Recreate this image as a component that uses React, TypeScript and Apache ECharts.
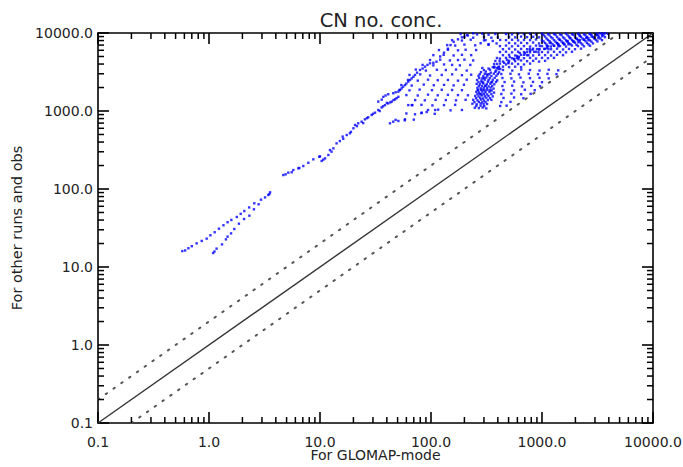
import React, { useEffect, useRef } from "react";
import * as echarts from "echarts";

const TITLE = "CN no. conc.";
const X_NAME = "For GLOMAP-mode";
const Y_NAME = "For other runs and obs";
const AXIS_MIN = 0.1;
const AXIS_MAX = 10000;
const MINOR_MULTS = [2, 3, 4, 5, 6, 7, 8, 9];
const DECADES = [0.1, 1, 10, 100, 1000];

// Reference lines (1:1, 2:1 and 1:2)
const lineOneToOne = [[0.1, 0.1], [10000, 10000]];
const lineTwoToOne = [[0.1, 0.2], [5000, 10000]];
const lineOneToTwo = [[0.2, 0.1], [10000, 5000]];

// Scatter points
const tailUpper = [
  [0.575, 16.0], [0.61, 16.3], [0.652, 17.4], [0.7, 18.5], [0.774, 20.1], [0.86, 21.6], [0.953, 23.1],
  [1.03, 25.5], [1.125, 27.9], [1.23, 31], [1.35, 34.3], [1.47, 37.5], [1.59, 40.1], [1.78, 43.8],
  [1.93, 48], [2.08, 52.2], [2.3, 58], [2.56, 65.6], [2.94, 73], [3.2, 78], [3.42, 83.8], [3.55, 90.6], [3.5, 86],
];
const tailLower = [
  [1.09, 15.1], [1.12, 15.8], [1.17, 17.2], [1.31, 19.5], [1.42, 22.6], [1.47, 24.5], [1.58, 27.0],
  [1.69, 30.7], [1.86, 35.9], [2.07, 41.2], [2.31, 45.5], [2.54, 54.9], [2.8, 63.7],
];
const midSegment = [
  [4.67, 151], [4.9, 154], [5.18, 162], [5.56, 164], [5.75, 175], [6.38, 184], [6.51, 186], [7.07, 197],
  [7.85, 217], [8.71, 240], [9.86, 259], [10.0, 262], [10.35, 229], [10.7, 238], [11.1, 247], [11.9, 273],
  [12.3, 316], [12.7, 301], [13.2, 332],
];
const bandLower = [
  [14.1, 385], [15.1, 412], [16.2, 440], [17.4, 492], [18.6, 518], [20.0, 600], [20.7, 662], [22.1, 695],
  [23.7, 729], [25.4, 782], [27.2, 830], [29.2, 889], [31.3, 951], [33.5, 1030], [35.9, 1110], [38.5, 1190],
  [41.2, 1250], [44.3, 1320], [47.4, 1410], [50.8, 1520], [16.0, 470], [19.0, 540], [21.5, 640], [24.5, 700],
  [26.5, 810], [30.0, 920], [34.5, 1000], [37.0, 1150], [40.0, 1270], [43.0, 1290], [46.0, 1380], [49, 1460],
];
const bandUpper = [
  [33.5, 1320], [37.2, 1520], [41.2, 1640], [45.7, 1690], [50.8, 1770], [54.4, 1950], [58.3, 2150],
  [62.4, 2380], [67.0, 2620], [71.8, 2900], [79.6, 3360], [88.3, 3700], [98, 4090], [112, 4290],
  [36, 1400], [39, 1580], [48, 1740], [52.6, 1860], [56, 2050], [60, 2250], [64.7, 2500], [69.5, 2750],
  [75, 3100], [84, 3500], [93, 3900], [105, 4150], [121, 5000], [131, 5600], [142, 6300], [150, 7000],
  [160, 7700], [175, 8300], [190, 8800], [211, 9400], [240, 9900],
];
const fanPoints = [
  [185, 9700], [215, 9300], [260, 9600], [240, 8700], [200, 8900],
  [155, 8100], [190, 8000], [228, 8200], [300, 8050], [420, 8150],
  [140, 7000], [165, 6900], [200, 7100], [250, 6950], [330, 7050],
  [118, 6050], [142, 6100], [175, 6000], [205, 6100], [255, 6050],
  [105, 5200], [130, 5250], [160, 5150], [190, 5250], [230, 5200],
  [98, 4500], [121, 4550], [148, 4450], [175, 4500], [200, 4550], [240, 4450],
  [84, 3900], [105, 3850], [131, 3950], [155, 3900], [182, 3850], [226, 3900],
  [73, 3400], [90, 3300], [113, 3380], [136, 3350], [168, 3400], [210, 3300],
  [64, 2900], [80, 2950], [98, 2850], [125, 2900], [155, 2950], [190, 2880], [230, 2920],
  [62, 2500], [76, 2450], [94, 2520], [115, 2480], [142, 2500], [175, 2450], [210, 2520],
  [54, 2150], [67, 2120], [86, 2180], [106, 2140], [131, 2160], [160, 2130], [198, 2170],
  [52, 1860], [64, 1840], [79, 1880], [102, 1850], [125, 1870], [155, 1860], [190, 1850],
  [60, 1600], [76, 1580], [94, 1620], [115, 1590], [142, 1610], [175, 1600], [215, 1590],
  [72, 1380], [88, 1370], [110, 1390], [136, 1380], [168, 1370], [205, 1390],
  [68, 1190], [82, 1200], [103, 1180], [131, 1190], [165, 1200],
  [94, 1030], [116, 1040], [150, 1020], [190, 1030],
  [60, 930], [82, 940], [108, 920], [48, 770], [58, 760], [70, 775],
  [42.7, 695], [45.7, 729], [50.8, 745], [58.3, 782], [62.4, 1190], [67, 1190], [71.8, 907],
  [82.4, 951], [91.4, 971], [109, 1030],
];
const blobPoints = [
  [290, 3560], [330, 3500], [372, 3600], [405, 3450],
  [282, 3150], [312, 3200], [345, 3100], [380, 3180], [410, 3130],
  [268, 2820], [296, 2790], [322, 2850], [350, 2800], [388, 2830],
  [260, 2500], [285, 2460], [305, 2520], [330, 2480], [360, 2510], [395, 2470],
  [258, 2230], [276, 2200], [295, 2250], [318, 2210], [342, 2240], [372, 2200],
  [262, 1980], [280, 1950], [300, 1990], [320, 1960], [345, 2000], [366, 1940],
  [256, 1760], [272, 1730], [290, 1770], [310, 1740], [336, 1760], [370, 1720],
  [250, 1560], [268, 1540], [286, 1580], [305, 1550], [330, 1560], [360, 1540],
  [240, 1390], [262, 1370], [283, 1400], [300, 1360], [325, 1380], [350, 1390],
  [236, 1240], [258, 1220], [280, 1250], [298, 1220], [320, 1230],
  [248, 1100], [270, 1090], [292, 1110], [315, 1080],
  [275, 1650], [295, 1880], [310, 2100], [285, 2350], [300, 2650], [320, 2950], [265, 1850], [340, 1850], [355, 2350],
  [300, 3350], [340, 3380], [385, 3300],
  [275, 2970], [305, 3000], [335, 2960], [368, 3010], [400, 2980],
  [272, 2650], [290, 2620], [315, 2680], [338, 2640], [375, 2660],
  [268, 2350], [295, 2330], [325, 2370], [350, 2340], [385, 2360],
  [270, 2090], [288, 2080], [308, 2110], [330, 2070], [356, 2100],
  [264, 1850], [282, 1870], [305, 1840], [322, 1860], [352, 1830],
  [262, 1650], [285, 1640], [300, 1660], [320, 1630], [350, 1650],
  [255, 1460], [277, 1470], [295, 1450], [315, 1480], [340, 1460],
  [246, 1300], [270, 1310], [290, 1290], [310, 1300],
  [256, 1160], [280, 1170], [302, 1150],
];
const topPoints = [
  [290, 9800], [330, 9500], [380, 9700], [300, 8900], [350, 8700], [400, 8800], [310, 8100], [360, 7900],
  [280, 7400], [330, 7200], [390, 7350],
  [474, 9700], [537, 9600], [609, 9800], [688, 9650], [781, 9750], [883, 9600], [1000, 9800], [1132, 9650],
  [1283, 9700], [1452, 9600], [1646, 9800], [1862, 9650], [2110, 9750], [2388, 9600], [2706, 9700],
  [3062, 9800], [3470, 9650], [3935, 9750],
  [505, 8900], [573, 8800], [648, 9000], [734, 8850], [832, 8950], [941, 8800], [1066, 9000], [1207, 8850],
  [1366, 8900], [1547, 8800], [1752, 9000], [1983, 8850], [2246, 8950], [2542, 8800], [2878, 8900],
  [3258, 9000], [3690, 8850],
  [474, 8100], [537, 8200], [609, 8050], [688, 8150], [781, 8100], [883, 8250], [1000, 8050], [1132, 8150],
  [1283, 8100], [1452, 8200], [1646, 8050], [1862, 8150], [2110, 8100], [2388, 8200], [2706, 8050],
  [3062, 8150], [3470, 8100],
  [505, 7450], [573, 7350], [648, 7500], [734, 7400], [832, 7550], [941, 7350], [1066, 7450], [1207, 7500],
  [1366, 7400], [1547, 7450], [1752, 7350], [1983, 7500], [2246, 7400], [2542, 7450], [2878, 7350],
  [418, 6800], [474, 6900], [537, 6750], [609, 6850], [688, 6800], [781, 6700], [883, 6900], [1000, 6800],
  [1132, 6750], [1283, 6850], [1452, 6800], [1646, 6700], [1862, 6900], [2110, 6800], [2388, 6750], [2706, 6850],
  [445, 6200], [505, 6300], [573, 6150], [648, 6250], [734, 6200], [832, 6300], [941, 6150], [1066, 6250],
  [1207, 6200], [1366, 6300], [1547, 6150], [1752, 6250], [1983, 6200], [2246, 6300],
  [418, 5700], [474, 5750], [537, 5650], [609, 5750], [688, 5700], [781, 5650], [883, 5750], [1000, 5700],
  [1132, 5650], [1283, 5750], [1452, 5700], [1646, 5650], [1862, 5750],
  [445, 5200], [505, 5250], [573, 5150], [648, 5250], [734, 5200], [832, 5150], [941, 5250], [1066, 5200],
  [1207, 5150], [1366, 5250], [1547, 5200],
  [393, 4780], [418, 4700], [474, 4800], [537, 4750], [609, 4850], [688, 4750], [781, 4800], [883, 4700],
  [1000, 4800], [1132, 4750], [1283, 4800],
  [380, 4380], [445, 4300], [505, 4400], [573, 4350], [648, 4450], [734, 4350], [832, 4400], [941, 4300], [1066, 4400],
  [370, 4000], [418, 4050], [474, 3950], [537, 4050], [609, 4000], [688, 3950], [781, 4050],
  [360, 3650], [445, 3700], [505, 3650], [573, 3700], [648, 3650],
  [1032, 9400], [1170, 9350], [1324, 9450], [1500, 9400], [1700, 9350], [1922, 9450], [2178, 9400],
  [2465, 9350], [2790, 9450], [3160, 9400], [3580, 9350],
  [1099, 8500], [1245, 8550], [1410, 8450], [1596, 8500], [1807, 8550], [2047, 8450], [2317, 8500],
  [2623, 8550], [2970, 8450], [3360, 8500],
  [1032, 7800], [1170, 7850], [1324, 7750], [1500, 7800], [1700, 7850], [1922, 7750], [2178, 7800],
  [2465, 7850], [2790, 7750], [3160, 7800],
  [1099, 7100], [1245, 7150], [1410, 7050], [1596, 7100], [1807, 7150], [2047, 7050], [2317, 7100], [2623, 7150],
];
const ropePoints = [
  [393, 4010], [415, 4380], [372, 3690], [405, 3650],
  [484, 4510], [512, 4920], [456, 4150], [498, 4100],
  [596, 5070], [630, 5540], [562, 4660], [614, 4610],
  [733, 5710], [776, 6240], [690, 5250], [755, 5190],
  [902, 6230], [955, 6800], [850, 5730], [930, 5660],
  [1110, 6810], [1175, 7440], [1045, 6260], [1145, 6190],
  [1365, 7450], [1445, 8140], [1285, 6850], [1405, 6770],
  [1680, 7900], [1780, 8630], [1580, 7260], [1730, 7180],
  [2067, 8380], [2190, 9160], [1945, 7710], [2130, 7620],
  [2543, 8900], [2690, 9720], [2390, 8180], [2620, 8090],
  [3128, 9430], [3310, 9900], [2940, 8670], [3220, 8570],
  [3697, 9900], [3480, 9100],
  [393, 3560], [410, 3700], [420, 3450], [500, 4200], [560, 4600], [596, 4780], [620, 4950], [700, 5500],
  [779, 5930], [820, 6100], [950, 6200], [1110, 6420], [1200, 6700], [1400, 7200], [1546, 7450], [1700, 7700],
  [1900, 7900], [2198, 8130], [2500, 8600], [2800, 9000], [3127, 9430], [3500, 9900],
];
const lowerRightPoints = [
  [445, 3360], [540, 3300], [650, 3400], [780, 3350], [950, 3300], [1150, 3380], [1400, 3320],
  [430, 2980], [520, 3000], [620, 2950], [760, 3010], [920, 2960], [1120, 2990], [1350, 2970],
  [440, 2650], [530, 2620], [640, 2680], [780, 2640], [950, 2660], [1150, 2620],
  [460, 2350], [560, 2380], [680, 2330], [830, 2360], [1000, 2340],
  [440, 2090], [540, 2110], [660, 2070], [800, 2100], [960, 2080],
  [450, 1860], [560, 1840], [700, 1870], [860, 1850],
  [430, 1650], [530, 1670], [650, 1640], [790, 1660],
  [450, 1470], [560, 1490], [680, 1460],
  [430, 1300], [520, 1310], [420, 1160], [480, 1170],
];

const scatterData = [
  ...tailUpper, ...tailLower, ...midSegment, ...bandLower, ...bandUpper, ...fanPoints,
  ...blobPoints, ...topPoints, ...ropePoints, ...lowerRightPoints,
];

// Minor tick positions (2..9 in every decade)
const minorValues: number[] = [];
DECADES.forEach((d) => MINOR_MULTS.forEach((m) => minorValues.push(+(d * m).toPrecision(3))));

const FONT = "DejaVu Sans";
const TXT = "#222";
const MINOR_LEN = 6;

export default function App() {
  const ref = useRef<HTMLDivElement>(null);
  useEffect(() => {
    if (!ref.current) return;
    const chart = echarts.init(ref.current, null, { renderer: "svg" });
    const fmt = (v: number) => Number(v).toFixed(1);
    const baseAxis = {
      type: "log" as const,
      logBase: 10,
      min: AXIS_MIN,
      max: AXIS_MAX,
      splitNumber: 5,
      splitLine: { show: false },
      axisLine: { show: true, lineStyle: { color: "#000", width: 1.6 } },
      axisTick: { show: true, inside: true, length: 11, lineStyle: { color: "#000", width: 1.6 } },
    };
    chart.setOption({
      animation: false,
      backgroundColor: "#fff",
      title: {
        text: TITLE,
        left: 376,
        top: 5,
        textAlign: "center",
        textStyle: { fontFamily: FONT, fontSize: 19.5, fontWeight: "normal", color: TXT },
      },
      grid: { left: 98, right: 30, top: 33, bottom: 44, containLabel: false, outerBoundsMode: "none" },
      xAxis: [
        {
          ...baseAxis,
          position: "bottom",
          name: X_NAME,
          nameLocation: "middle",
          nameGap: 25,
          nameMoveOverlap: false,
          nameTextStyle: { fontFamily: FONT, fontSize: 14, color: TXT },
          axisLabel: { formatter: fmt, fontFamily: FONT, fontSize: 14, color: TXT, margin: 12 },
        },
        { ...baseAxis, position: "top", axisLabel: { show: false } },
      ],
      yAxis: [
        {
          ...baseAxis,
          position: "left",
          name: Y_NAME,
          nameLocation: "middle",
          nameGap: 72,
          nameRotate: 90,
          nameTextStyle: { fontFamily: FONT, fontSize: 14.5, color: TXT },
          axisLabel: { formatter: fmt, fontFamily: FONT, fontSize: 14, color: TXT, margin: 5 },
        },
        { ...baseAxis, position: "right", axisLabel: { show: false } },
      ],
      series: [
        {
          type: "scatter",
          data: scatterData,
          symbol: "rect",
          symbolSize: 2.4,
          itemStyle: { color: "#0000ff" },
        },
        {
          type: "line",
          data: lineOneToOne,
          showSymbol: false,
          lineStyle: { color: "#333", width: 1.4 },
        },
        {
          type: "line",
          data: lineTwoToOne,
          showSymbol: false,
          lineStyle: { color: "#555", width: 2, type: [1.5, 8], cap: "round" },
        },
        {
          type: "line",
          data: lineOneToTwo,
          showSymbol: false,
          lineStyle: { color: "#555", width: 2, type: [1.5, 8], cap: "round" },
        },
      ],
    });

    // Minor ticks on all four sides, placed through the chart's own log scales
    const toPx = (p: number[]) => chart.convertToPixel({ gridIndex: 0 }, p) as number[];
    const ticks: any[] = [];
    const st = { stroke: "#000", lineWidth: 1.5 };
    minorValues.forEach((v) => {
      const b = toPx([v, AXIS_MIN]);
      const t = toPx([v, AXIS_MAX]);
      const l = toPx([AXIS_MIN, v]);
      const r = toPx([AXIS_MAX, v]);
      if (b && t && l && r) {
        ticks.push({ type: "line", shape: { x1: b[0], y1: b[1], x2: b[0], y2: b[1] - MINOR_LEN }, style: st, z: 10 });
        ticks.push({ type: "line", shape: { x1: t[0], y1: t[1], x2: t[0], y2: t[1] + MINOR_LEN }, style: st, z: 10 });
        ticks.push({ type: "line", shape: { x1: l[0], y1: l[1], x2: l[0] + MINOR_LEN, y2: l[1] }, style: st, z: 10 });
        ticks.push({ type: "line", shape: { x1: r[0], y1: r[1], x2: r[0] - MINOR_LEN, y2: r[1] }, style: st, z: 10 });
      }
    });
    chart.setOption({ graphic: ticks });
    return () => chart.dispose();
  }, []);
  return (
    <div
      ref={ref}
      style={{ position: "fixed", left: 0, top: 0, width: 683, height: 467, background: "#fff" }}
    />
  );
}
